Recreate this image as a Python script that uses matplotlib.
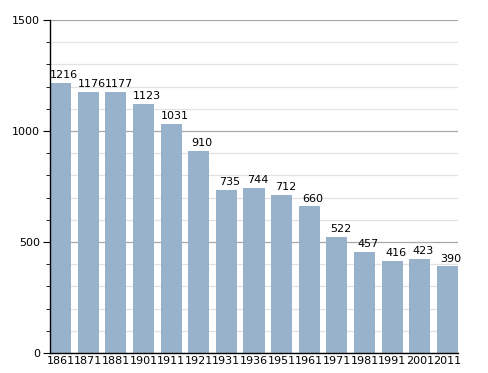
import matplotlib
matplotlib.use('Agg')
import matplotlib.pyplot as plt
from matplotlib.ticker import MultipleLocator

years = ["1861", "1871", "1881", "1901", "1911", "1921", "1931", "1936",
         "1951", "1961", "1971", "1981", "1991", "2001", "2011"]
population = [1216, 1176, 1177, 1123, 1031, 910, 735, 744,
              712, 660, 522, 457, 416, 423, 390]

BAR = "#98b2cb"
W = 0.76

fig = plt.figure(figsize=(4.88, 3.73), dpi=100)
ax = fig.add_axes([50 / 488, 20 / 373, 408 / 488, 333 / 373])

x = range(len(years))
ax.bar(x, population, width=W, color=BAR, zorder=2)
# value labels sit a little right of the bar centre, like the original
for i, v in zip(x, population):
    ax.text(i + 0.13, v + 12, str(v), ha="center", va="bottom", fontsize=8, zorder=3)

ax.set_xlim(-W / 2, len(years) - 1 + W / 2)
ax.set_ylim(0, 1500)
ax.yaxis.set_major_locator(MultipleLocator(500))
ax.yaxis.set_minor_locator(MultipleLocator(100))
ax.grid(axis="y", which="major", color="#a8a8a8", linewidth=0.9, zorder=0)
ax.grid(axis="y", which="minor", color="#e2e2e2", linewidth=0.9, zorder=0)

ax.set_xticks(list(x))
ax.set_xticklabels(years, fontsize=8)
ax.tick_params(axis="x", length=0, pad=2)
ax.tick_params(axis="y", which="major", length=5, labelsize=8, pad=2)
ax.tick_params(axis="y", which="minor", length=3)

for sp in ["top", "right"]:
    ax.spines[sp].set_visible(False)
ax.spines["left"].set_linewidth(1)
ax.spines["bottom"].set_linewidth(1)

fig.savefig("out.png", dpi=100)
